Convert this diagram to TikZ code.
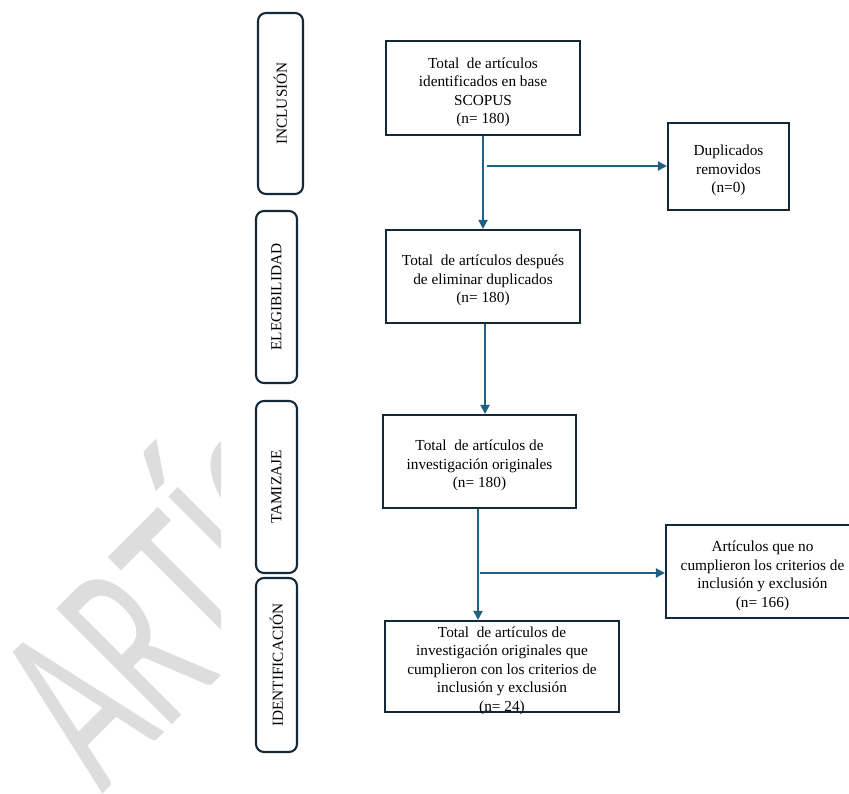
\documentclass[tikz,border=0pt]{standalone}
\usepackage{fontspec}
\setmainfont{Liberation Serif}
\newfontfamily\wmfont{Carlito}
\usetikzlibrary{arrows.meta}
\definecolor{boxline}{RGB}{20,40,56}
\definecolor{arrowc}{RGB}{33,96,130}
\definecolor{wmgray}{RGB}{221,221,221}
\newcommand\toppad{\rule{0pt}{19pt}}
\begin{document}
\begin{tikzpicture}[x=1pt,y=-1pt,
  mainbox/.style={draw=boxline,line width=2.1pt,fill=white,inner sep=0pt,align=center,
    font=\fontsize{15.3}{18.5}\selectfont},
  phasebox/.style={draw=boxline,line width=2.1pt,rounded corners=8pt,rotate=90,inner sep=0pt,
    font=\fontsize{15.3}{18}\selectfont},
  flow/.style={draw=arrowc,line width=2pt,-{Triangle[length=9pt,width=9pt]}},
  watermark/.style={text=wmgray,inner sep=0pt,anchor=base west,rotate=45,xscale=0.6,
    font=\wmfont\fontsize{255}{255}\selectfont},
]
\useasboundingbox (0,0) rectangle (849,794);

% watermark (clipped where the diagram covers it)
\begin{scope}
  \clip (0,0) rectangle (220,794);
  \node[watermark] (wm) at (102,795) {ARTÍCULO};
\end{scope}

% phase labels
\node[phasebox,minimum width=181pt,minimum height=45pt] (inc) at (280.5,103.5) {INCLUSIÓN};
\node[phasebox,minimum width=172pt,minimum height=41pt] (ele) at (276.5,297) {ELEGIBILIDAD};
\node[phasebox,minimum width=172pt,minimum height=41pt] (tam) at (276.5,487) {TAMIZAJE};
\node[phasebox,minimum width=174pt,minimum height=41pt] (ide) at (276.5,665) {IDENTIFICACIÓN};

% main boxes
\node[mainbox,minimum width=194pt,minimum height=94pt] (b1) at (483,88)
  {\toppad Total~ de artículos\\identificados en base\\SCOPUS\\(n= 180)};
\node[mainbox,minimum width=121pt,minimum height=87pt] (b2) at (728.5,166.5)
  {\toppad Duplicados\\removidos\\(n=0)};
\node[mainbox,minimum width=194pt,minimum height=93pt] (b3) at (483,276.5)
  {\toppad Total~ de artículos después\\de eliminar duplicados\\(n= 180)};
\node[mainbox,minimum width=193pt,minimum height=93pt] (b4) at (479.5,461.5)
  {\toppad Total~ de artículos de\\investigación originales\\(n= 180)};
\node[mainbox,minimum width=193pt,minimum height=93pt] (b5) at (762.5,571.5)
  {\toppad Artículos que no\\cumplieron los criterios de\\inclusión y exclusión\\(n= 166)};
\node[mainbox,inner ysep=-4pt,minimum width=234pt,minimum height=91pt] (b6) at (502,666.5)
  {\toppad Total~ de artículos de\\investigación originales que\\cumplieron con los criterios de\\inclusión y exclusión\\(n= 24)};

% connectors
\coordinate (j1) at (487,166);
\coordinate (j2) at (480,573);
\draw[flow] (b1.south) -- (b3.north);
\draw[flow] (j1) -- (j1 -| b2.west);
\draw[flow] ([xshift=2pt]b3.south) -- ([xshift=2pt]b3.south |- b4.north);
\draw[flow] ([xshift=-1.5pt]b4.south) -- ([xshift=-1.5pt]b4.south |- b6.north);
\draw[flow] (j2) -- (j2 -| b5.west);
\end{tikzpicture}
\end{document}
